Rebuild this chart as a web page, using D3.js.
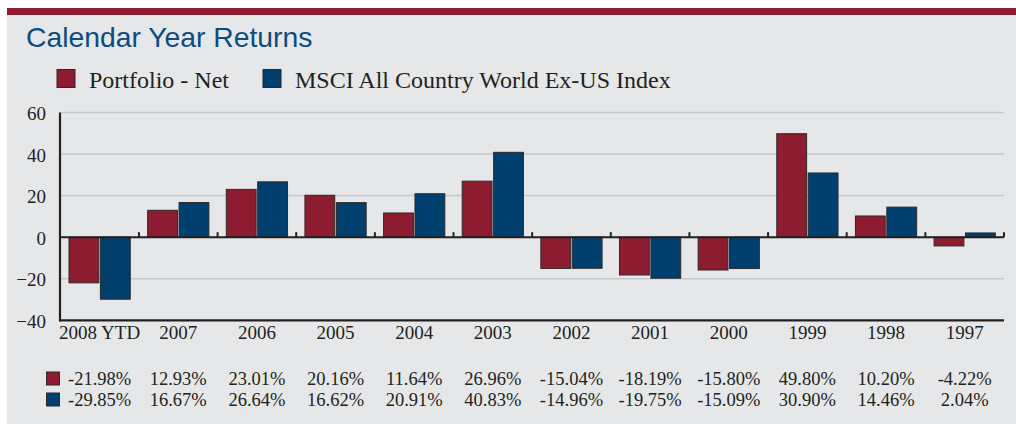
<!DOCTYPE html>
<html>
<head>
<meta charset="utf-8">
<script src="https://cdn.jsdelivr.net/npm/d3@7"></script>
<style>
  body { margin: 0; background: #fff; }
  svg text { fill: #231f20; }
</style>
</head>
<body>
<div id="chart"></div>
<script>
// Data.
const years = ["2008 YTD", "2007", "2006", "2005", "2004", "2003", "2002", "2001", "2000", "1999", "1998", "1997"]
const portfolio = [-21.98, 12.93, 23.01, 20.16, 11.64, 26.96, -15.04, -18.19, -15.80, 49.80, 10.20, -4.22]
const msci = [-29.85, 16.67, 26.64, 16.62, 20.91, 40.83, -14.96, -19.75, -15.09, 30.90, 14.46, 2.04]
const seriesNames = ["Portfolio - Net", "MSCI All Country World Ex-US Index"]
const yTicks = [-40, -20, 0, 20, 40, 60]

const width = 1016
const height = 424
const red = "#8e1c30"
const blue = "#003f6e"
const serif = "'Liberation Serif', 'Times New Roman', serif"

let svg = d3.select("#chart").append("svg")
    .attr("width", width)
    .attr("height", height);

// Panel and top strip.
svg.append("rect").attr("x", 7).attr("y", 15).attr("width", width - 7).attr("height", height - 15).attr("fill", "#e6e7e9");
svg.append("rect").attr("x", 7).attr("y", 8).attr("width", width - 7).attr("height", 7).attr("fill", "#8e1c30");

// Title.
svg.append("text")
    .attr("x", 26).attr("y", 47)
    .style("font-family", "'Liberation Sans', Arial, sans-serif")
    .style("font-size", "28.3px")
    .style("fill", "#0b4d7e")
    .text("Calendar Year Returns");

// Legend.
let legendX = [57, 263];
seriesNames.forEach(function(name, i) {
    svg.append("rect")
        .attr("x", legendX[i]).attr("y", 69.5).attr("width", 18).attr("height", 18)
        .attr("fill", i === 0 ? red : blue)
        .attr("stroke", "#2a2a2a").attr("stroke-width", 1);
    svg.append("text")
        .attr("x", legendX[i] + 32).attr("y", 88)
        .style("font-family", serif)
        .style("font-size", "24px")
        .text(name);
});

// Scales.
let x = d3.scaleBand().domain(years).range([60.3, 1004]);
let inner = d3.scaleBand().domain([0, 1]).range([8.7, x.bandwidth() - 8.7]).paddingInner(0.05);
let y = d3.scaleLinear().domain([-40, 60]).range([320.3, 112.5]);

// Gridlines.
svg.append("g").selectAll("line")
    .data(yTicks.filter(d => d !== 0 && d !== -40))
    .enter().append("line")
    .attr("x1", 61).attr("x2", 1004)
    .attr("y1", d => y(d)).attr("y2", d => y(d))
    .attr("stroke", "#c6c7c9").attr("stroke-width", 1.5);

// Y axis labels.
let yAxis = d3.axisLeft(y).tickValues(yTicks).tickSize(0).tickPadding(14);
let yg = svg.append("g").attr("transform", "translate(60,0)").call(yAxis);
yg.select(".domain").remove();
yg.selectAll("text")
    .style("font-family", serif)
    .style("font-size", "19px")
    .style("fill", "#231f20")
    .attr("dy", "0.38em");

// Bars.
let groups = svg.append("g").selectAll("g")
    .data(years)
    .enter().append("g")
    .attr("transform", d => "translate(" + x(d) + ",0)");

groups.selectAll("rect")
    .data((d, i) => [portfolio[i], msci[i]])
    .enter().append("rect")
    .attr("x", (d, j) => inner(j))
    .attr("width", inner.bandwidth())
    .attr("y", d => y(Math.max(0, d)))
    .attr("height", d => Math.abs(y(d) - y(0)))
    .attr("fill", (d, j) => j === 0 ? red : blue)
    .attr("stroke", "#2b2b2b").attr("stroke-width", 1);

// Zero line with boundary ticks.
svg.append("line")
    .attr("x1", 60).attr("x2", 1004).attr("y1", y(0)).attr("y2", y(0))
    .attr("stroke", "#231f20").attr("stroke-width", 2);
svg.append("g").selectAll("line")
    .data(years.slice(1).map(d => x(d)).concat([x.range()[1]]))
    .enter().append("line")
    .attr("x1", d => d).attr("x2", d => d)
    .attr("y1", y(0)).attr("y2", y(0) - 5)
    .attr("stroke", "#231f20").attr("stroke-width", 2);

// Frame: left and bottom axis lines.
svg.append("line").attr("x1", 60).attr("x2", 60).attr("y1", y(60)).attr("y2", y(-40) + 1)
    .attr("stroke", "#231f20").attr("stroke-width", 2.2);
svg.append("line").attr("x1", 59).attr("x2", 1004).attr("y1", y(-40)).attr("y2", y(-40))
    .attr("stroke", "#231f20").attr("stroke-width", 2.2);

// X axis labels.
let xAxis = d3.axisBottom(x).tickSize(0).tickPadding(0);
let xg = svg.append("g").attr("transform", "translate(0,339)").call(xAxis);
xg.select(".domain").remove();
xg.selectAll("text")
    .attr("dy", 0).attr("y", 0)
    .style("font-family", serif)
    .style("font-size", "19px")
    .style("fill", "#231f20");

// Data table below the chart.
let rowsY = [385, 406];
[portfolio, msci].forEach(function(values, r) {
    svg.append("rect")
        .attr("x", 46.5).attr("y", rowsY[r] - 13).attr("width", 13).attr("height", 13)
        .attr("fill", r === 0 ? red : blue)
        .attr("stroke", "#2a2a2a").attr("stroke-width", 1);
    svg.append("g").selectAll("text")
        .data(values)
        .enter().append("text")
        .attr("x", (d, i) => x(years[i]) + x.bandwidth() / 2)
        .attr("y", rowsY[r])
        .attr("text-anchor", "middle")
        .style("font-family", serif)
        .style("font-size", "18.5px")
        .text(d => d.toFixed(2) + "%");
});
</script>
</body>
</html>
